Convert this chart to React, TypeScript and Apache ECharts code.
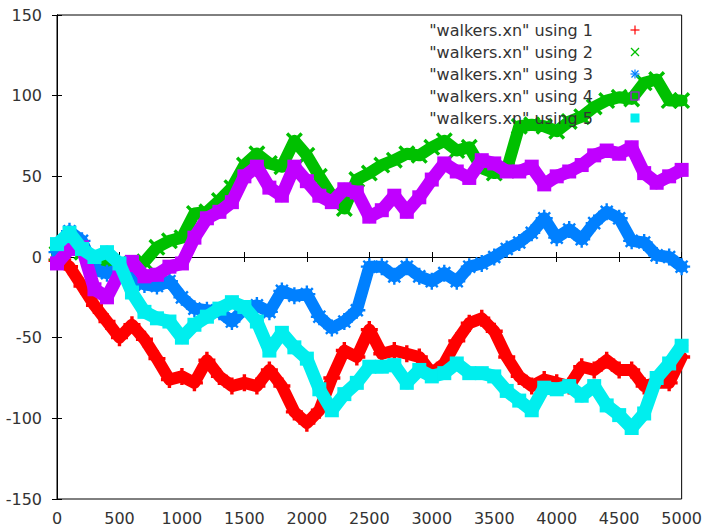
import React, { useEffect, useRef } from "react";
import * as echarts from "echarts";

const steps = [0, 100, 200, 300, 400, 500, 600, 700, 800, 900, 1000, 1100, 1200, 1300, 1400, 1500, 1600, 1700, 1800, 1900, 2000, 2100, 2200, 2300, 2400, 2500, 2600, 2700, 2800, 2900, 3000, 3100, 3200, 3300, 3400, 3500, 3600, 3700, 3800, 3900, 4000, 4100, 4200, 4300, 4400, 4500, 4600, 4700, 4800, 4900, 5000];

const walker1 = [-2, -6, -18, -30, -40, -50, -42, -51, -63, -76, -74, -78, -64, -74, -80, -78, -80, -70, -80, -96, -103, -95, -75, -58, -62, -45, -60, -58, -60, -62, -72, -66, -52, -41, -38, -46, -62, -74, -80, -76, -78, -80, -68, -70, -64, -70, -70, -80, -78, -78, -62];
const walker2 = [2, 6, 3, 0, -4, -4, -6, -3, 6, 10, 12, 27, 28, 35, 43, 57, 64, 58, 56, 72, 63, 50, 38, 30, 48, 52, 57, 60, 64, 63, 68, 72, 66, 68, 55, 52, 54, 81, 82, 81, 78, 84, 87, 93, 97, 99, 98, 108, 110, 97, 97];
const walker3 = [3, 16, 10, -8, -10, -8, -12, -17, -18, -15, -25, -32, -33, -34, -40, -32, -30, -34, -21, -24, -23, -37, -44, -40, -33, -6, -6, -12, -6, -12, -15, -10, -15, -6, -4, 0, 5, 9, 15, 24, 12, 17, 11, 21, 28, 24, 10, 9, 1, 0, -6];
const walker4 = [-4, 5, 6, -20, -25, -10, -3, -12, -11, -6, -4, 12, 24, 28, 34, 50, 56, 43, 38, 56, 47, 38, 34, 42, 40, 25, 29, 38, 28, 37, 48, 58, 53, 49, 60, 58, 53, 53, 56, 45, 50, 53, 57, 63, 66, 64, 68, 52, 46, 50, 54];
const walker5 = [8, 15, 5, 0, 3, -4, -22, -34, -38, -40, -50, -42, -37, -32, -28, -31, -40, -58, -47, -56, -63, -82, -95, -85, -78, -68, -68, -67, -78, -70, -74, -72, -66, -72, -72, -74, -83, -89, -95, -81, -82, -80, -86, -80, -92, -98, -106, -97, -75, -66, -55];

const seriesNames = ['"walkers.xn" using 1', '"walkers.xn" using 2', '"walkers.xn" using 3', '"walkers.xn" using 4', '"walkers.xn" using 5'];
const seriesColors = ["#ff0000", "#00c000", "#0080ff", "#c000ff", "#00eeee"];
const xTicks = { min: 0, max: 5000, interval: 500 };
const yTicks = { min: -150, max: 150, interval: 50 };

const FONT = "DejaVu Sans";

const PLUS = "path://M4,0h2v4h4v2h-4v4h-2v-4h-4v-2h4z";
const CROSS = "path://M1.4,0L5,3.6L8.6,0L10,1.4L6.4,5L10,8.6L8.6,10L5,6.4L1.4,10L0,8.6L3.6,5L0,1.4z";
const STAR = "path://M4.3,0h1.4v3.3L8,1l1,1L6.7,4.3H10v1.4H6.7L9,8l-1,1L5.7,6.7V10H4.3V6.7L2,9L1,8l2.3-2.3H0V4.3h3.3L1,2l1-1l2.3,2.3z";
const seriesSymbols = [PLUS, CROSS, STAR, "rect", "rect"];

export default function App() {
  const ref = useRef<HTMLDivElement>(null);
  useEffect(() => {
    if (!ref.current) return;
    const chart = echarts.init(ref.current, undefined, { renderer: "svg" });
    const walkers = [walker1, walker2, walker3, walker4, walker5];

    const legendX = 593;
    const markX = 635;
    const rowY = [30, 52, 74, 96, 118];
    const graphics: any[] = [];
    seriesNames.forEach((name, i) => {
      graphics.push({
        type: "text",
        x: legendX,
        y: rowY[i],
        z: 100,
        style: { text: name, fill: "#333", font: `16px '${FONT}'`, textAlign: "right", textVerticalAlign: "middle" },
      });
    });
    const c = seriesColors;
    const lw = 1.2;
    graphics.push({ type: "line", z: 100, shape: { x1: markX - 4.5, y1: rowY[0], x2: markX + 4.5, y2: rowY[0] }, style: { stroke: c[0], lineWidth: lw } });
    graphics.push({ type: "line", z: 100, shape: { x1: markX, y1: rowY[0] - 4.5, x2: markX, y2: rowY[0] + 4.5 }, style: { stroke: c[0], lineWidth: lw } });
    graphics.push({ type: "line", z: 100, shape: { x1: markX - 4, y1: rowY[1] - 4, x2: markX + 4, y2: rowY[1] + 4 }, style: { stroke: c[1], lineWidth: lw } });
    graphics.push({ type: "line", z: 100, shape: { x1: markX - 4, y1: rowY[1] + 4, x2: markX + 4, y2: rowY[1] - 4 }, style: { stroke: c[1], lineWidth: lw } });
    graphics.push({ type: "line", z: 100, shape: { x1: markX - 4.5, y1: rowY[2], x2: markX + 4.5, y2: rowY[2] }, style: { stroke: c[2], lineWidth: lw } });
    graphics.push({ type: "line", z: 100, shape: { x1: markX, y1: rowY[2] - 4.5, x2: markX, y2: rowY[2] + 4.5 }, style: { stroke: c[2], lineWidth: lw } });
    graphics.push({ type: "line", z: 100, shape: { x1: markX - 3.5, y1: rowY[2] - 3.5, x2: markX + 3.5, y2: rowY[2] + 3.5 }, style: { stroke: c[2], lineWidth: lw } });
    graphics.push({ type: "line", z: 100, shape: { x1: markX - 3.5, y1: rowY[2] + 3.5, x2: markX + 3.5, y2: rowY[2] - 3.5 }, style: { stroke: c[2], lineWidth: lw } });
    graphics.push({ type: "rect", z: 100, shape: { x: markX - 4, y: rowY[3] - 4, width: 8, height: 8 }, style: { stroke: c[3], fill: "none", lineWidth: lw } });
    graphics.push({ type: "rect", z: 100, shape: { x: markX - 4.5, y: rowY[4] - 4.5, width: 9, height: 9 }, style: { fill: c[4] } });

    const tickStyle = { show: true, inside: true, length: 5, lineStyle: { color: "#000", width: 1 } };
    const labelStyle = { color: "#333", fontFamily: FONT, fontSize: 16, formatter: (v: number) => String(v) };

    chart.setOption({
      animation: false,
      backgroundColor: "#fff",
      grid: { left: 57, right: 21, top: 15, bottom: 29, show: true, borderColor: "#000", borderWidth: 1, backgroundColor: "transparent" },
      xAxis: [
        {
          type: "value", position: "bottom", ...xTicks,
          axisLine: { show: true, lineStyle: { color: "#000" } },
          axisTick: tickStyle,
          axisLabel: { ...labelStyle, margin: 11 },
          splitLine: { show: false },
        },
        {
          type: "value", position: "top", ...xTicks,
          axisLine: { show: true, lineStyle: { color: "#000" } },
          axisTick: tickStyle,
          axisLabel: { show: false },
          splitLine: { show: false },
        },
      ],
      yAxis: [
        {
          type: "value", position: "left", ...yTicks,
          axisLine: { show: true, lineStyle: { color: "#000" } },
          axisTick: tickStyle,
          axisLabel: { ...labelStyle, margin: 15 },
          splitLine: { show: false },
        },
        {
          type: "value", position: "right", ...yTicks,
          axisLine: { show: true, lineStyle: { color: "#000" } },
          axisTick: tickStyle,
          axisLabel: { show: false },
          splitLine: { show: false },
        },
      ],
      series: walkers.map((w, i) => ({
        name: seriesNames[i],
        type: "line",
        xAxisIndex: 0,
        yAxisIndex: 0,
        data: steps.map((s, j) => [s, w[j]]),
        showSymbol: true,
        showAllSymbol: true,
        symbol: seriesSymbols[i],
        symbolSize: i >= 3 ? 14 : 17,
        clip: true,
        lineStyle: { color: seriesColors[i], width: i >= 3 ? 13 : 12, join: "round", cap: "round" },
        itemStyle: { color: seriesColors[i], borderWidth: 0 },
        z: 2 + i,
      })),
      graphic: graphics,
    });
    return () => chart.dispose();
  }, []);
  return <div ref={ref} style={{ position: "fixed", left: 0, top: 0, width: 705, height: 528 }} />;
}
